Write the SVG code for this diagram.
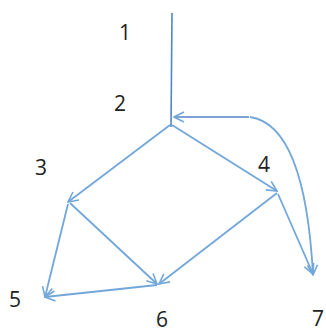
<svg xmlns="http://www.w3.org/2000/svg" width="326" height="333" viewBox="0 0 326 333">
<style>
.lbl{font-family:"Open Sans","Liberation Sans",sans-serif;font-size:21px;fill:#222;text-anchor:middle}
.e{stroke:#72a7da;stroke-width:1.8;fill:none;marker-end:url(#ah)}
.d{stroke:#4f86c6;stroke-width:1.6;fill:none}
</style>
<defs>
<marker id="ah" viewBox="0 0 12 12" refX="11" refY="6" markerWidth="12" markerHeight="12" markerUnits="userSpaceOnUse" orient="auto">
<path d="M1,1 L11,6 L1,11" fill="none" stroke="#72a7da" stroke-width="1.6"/>
</marker>
</defs>
<rect width="326" height="333" fill="#fff"/>
<g id="connectors">
<path class="d" d="M172,13 L171,127"/>
<path class="d" d="M249,117 L174,117" marker-end="url(#ah)"/>
<path class="e" d="M250,117 Q305,125 313,275"/>
<path class="e" d="M170,125 L68,202"/>
<path class="e" d="M172,125 L277,191"/>
<path class="e" d="M70,203 L157,284"/>
<path class="e" d="M277,193 L159,284"/>
<path class="e" d="M278,194 L313,274"/>
<path class="e" d="M68,204 L45,297"/>
<path class="e" d="M157,285 L45,297"/>
</g>
<g id="n1"><text class="lbl" x="125" y="40">1</text></g>
<g id="n2"><text class="lbl" x="120" y="111">2</text></g>
<g id="n3"><text class="lbl" x="41" y="175">3</text></g>
<g id="n4"><text class="lbl" x="264" y="172">4</text></g>
<g id="n5"><text class="lbl" x="15" y="307">5</text></g>
<g id="n6"><text class="lbl" x="162" y="327">6</text></g>
<g id="n7"><text class="lbl" x="318" y="326">7</text></g>
</svg>
